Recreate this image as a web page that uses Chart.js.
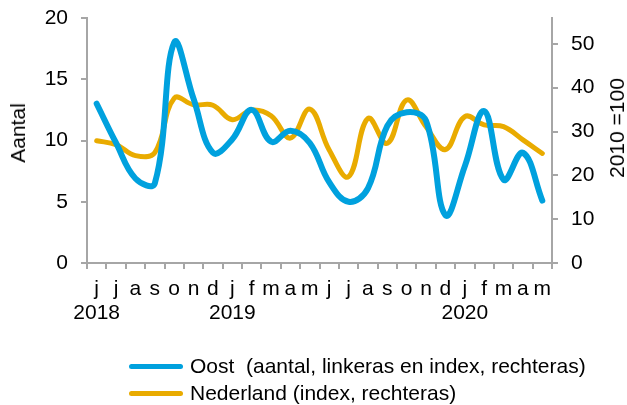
<!DOCTYPE html>
<html>
<head>
<meta charset="utf-8">
<script src="https://cdn.jsdelivr.net/npm/chart.js@4/dist/chart.umd.min.js"></script>
<style>
  body { margin: 0; background: #fff; font-family: "Liberation Sans", Arial, sans-serif; }
  #wrap { position: relative; width: 627px; height: 405px; }
  .axis-title { position: absolute; font-size: 21px; color: #000; white-space: nowrap;
    transform: translate(-50%, -50%) rotate(-90deg); }
  #legend { position: absolute; left: 129px; top: 353px; font-size: 21px; color: #000; }
  .item { position: relative; height: 26.5px; line-height: 26px; white-space: pre; padding-left: 61px; }
  .swatch { position: absolute; left: 0; top: 11px; width: 54px; height: 5px; border-radius: 3px; }
</style>
</head>
<body>
<div id="wrap">
  <canvas id="chart"></canvas>
  <div class="axis-title" style="left:18px; top:133px;">Aantal</div>
  <div class="axis-title" style="left:617px; top:128px;">2010 =100</div>
  <div id="legend"></div>
</div>
<script>
var months = ["j","j","a","s","o","n","d","j","f","m","a","m","j","j","a","s","o","n","d","j","f","m","a","m"];
var years  = ["2018","","","","","","","2019","","","","","","","","","","","","2020","","","",""];

// Oost: aantal (linkeras)
var oost = [13.0, 9.8, 6.9, 6.5, 18.0, 13.4, 9.0, 10.1, 12.5, 9.9, 10.8, 9.8,
            6.6, 5.0, 6.1, 11.2, 12.3, 11.6, 3.9, 7.9, 12.4, 6.8, 9.0, 5.1];
// Nederland: index 2010=100 (rechteras)
var nederland = [27.9, 27.0, 24.5, 25.2, 37.6, 36.1, 36.0, 32.7, 34.9, 33.6, 28.5, 35.1,
                 25.8, 19.7, 33.0, 27.3, 37.2, 31.1, 25.9, 33.4, 31.5, 31.1, 28.1, 25.0];

var oostLabel = "Oost  (aantal, linkeras en index, rechteras)";
var nederlandLabel = "Nederland (index, rechteras)";

var axisColor = "#a6a6a6";
var tickFont = { family: "'Liberation Sans', Arial, sans-serif", size: 21, lineHeight: "24px" };

var labels = months.map(function (m, i) {
  return [m, years[i]];
});

// fixed axis width, no extra room above/below for the tick labels
function fixWidth(w) {
  return function (s) { s.width = w; s.paddingTop = 0; s.paddingBottom = 0; };
}

var ctx = document.getElementById("chart");
var chart = new Chart(ctx, {
  type: "line",
  data: {
    labels: labels,
    datasets: [
      {
        label: oostLabel,
        data: oost,
        yAxisID: "y",
        borderColor: "#00a1de",
        borderWidth: 6,
        borderCapStyle: "round",
        borderJoinStyle: "round",
        pointRadius: 0,
        tension: 0.4,
        order: 1
      },
      {
        label: nederlandLabel,
        data: nederland,
        yAxisID: "y1",
        borderColor: "#e9ab00",
        borderWidth: 5,
        borderCapStyle: "round",
        borderJoinStyle: "round",
        pointRadius: 0,
        tension: 0.4,
        order: 2
      }
    ]
  },
  options: {
    responsive: true,
    maintainAspectRatio: false,
    animation: false,
    layout: { padding: { top: 18, bottom: 82, left: 0, right: 0 } },
    plugins: { legend: { display: false }, tooltip: { enabled: false } },
    scales: {
      x: {
        offset: true,
        grid: { offset: true, drawOnChartArea: false, drawTicks: true, tickLength: 6, color: axisColor, lineWidth: 2 },
        border: { color: axisColor, width: 2 },
        ticks: { font: tickFont, color: "#000", maxRotation: 0, autoSkip: false, padding: 8 },
        afterFit: function (s) { s.height = 60; }
      },
      y: {
        position: "left",
        min: 0, max: 20,
        grid: { drawOnChartArea: false, drawTicks: true, tickLength: 6, color: axisColor, lineWidth: 2 },
        border: { color: axisColor, width: 2 },
        ticks: { stepSize: 5, font: tickFont, color: "#000", padding: 13 },
        afterFit: fixWidth(87)
      },
      y1: {
        position: "right",
        min: 0, max: 55.9,
        grid: { drawOnChartArea: false, drawTicks: true, tickLength: 6, color: axisColor, lineWidth: 2 },
        border: { color: axisColor, width: 2 },
        ticks: { stepSize: 10, includeBounds: false, font: tickFont, color: "#000", padding: 13 },
        afterFit: fixWidth(75)
      }
    }
  }
});

// legend built from the chart's datasets
var legend = document.getElementById("legend");
chart.data.datasets.forEach(function (ds) {
  var item = document.createElement("div");
  item.className = "item";
  var sw = document.createElement("span");
  sw.className = "swatch";
  sw.style.background = ds.borderColor;
  item.appendChild(sw);
  item.appendChild(document.createTextNode(ds.label));
  legend.appendChild(item);
});
</script>
</body>
</html>
